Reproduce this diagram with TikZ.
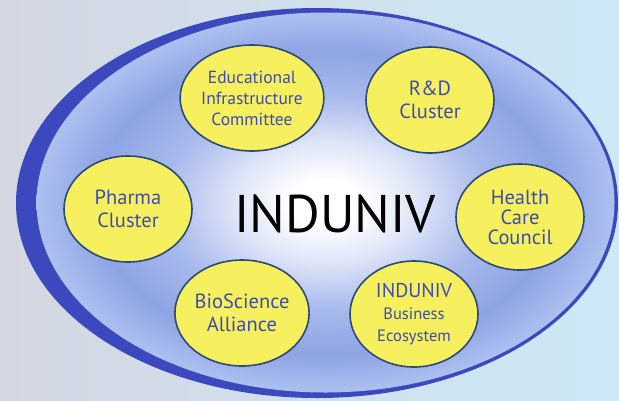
\documentclass[tikz,border=0pt]{standalone}
\usepackage{fontspec}
\setsansfont{PT Sans}
\usetikzlibrary{shapes.geometric}

\definecolor{ringblue}{RGB}{60,72,190}
\definecolor{rimblue}{RGB}{172,192,240}
\definecolor{midblue}{RGB}{142,164,228}
\definecolor{softblue}{RGB}{168,186,236}
\definecolor{paleblue}{RGB}{222,229,248}
\definecolor{clusteryellow}{RGB}{246,240,94}
\definecolor{clusteredge}{RGB}{44,74,115}
\definecolor{labelblue}{RGB}{60,76,180}
\definecolor{bgleft}{RGB}{211,215,225}
\definecolor{bgright}{RGB}{205,233,247}

\pgfdeclareradialshading{glow}{\pgfpoint{0bp}{0bp}}{color(0bp)=(white); color(3bp)=(white); color(8bp)=(paleblue); color(14bp)=(softblue); color(20bp)=(midblue); color(25bp)=(rimblue); color(50bp)=(rimblue)}

\begin{document}
\begin{tikzpicture}[x=1pt,y=-1pt,
    cluster/.style={ellipse, draw=clusteredge, line width=1.6pt, fill=clusteryellow,
      minimum width=128pt, minimum height=106pt, inner sep=0pt, align=center,
      text=labelblue, font=\sffamily\fontsize{20.5}{22.5}\selectfont}]
  \useasboundingbox (0,0) rectangle (619,400);
  \shade[left color=bgleft, right color=bgright] (0,0) rectangle (619,400);

  % outer ring and inner glow
  \fill[ringblue] (317,203) ellipse [x radius=301pt, y radius=195pt];
  \shade[shading=glow] (325.5,202.5) ellipse [x radius=289pt, y radius=190pt];

  \node[font=\sffamily\fontsize{53}{53}\selectfont] (induniv) at (335,214) {INDUNIV};

  % top row
  \node[cluster, font=\sffamily\fontsize{17.5}{21}\selectfont] (edu) at (252,98) {Educational\\Infrastructure\\Committee};
  \node[cluster] (rnd) at (430,100) {R\&D\\Cluster};
  % middle row
  \node[cluster] (pharma) at (128,209) {Pharma\\Cluster};
  \node[cluster, font=\sffamily\fontsize{20.5}{20}\selectfont] (health) at (520,217) {Health\\Care\\Council};
  % bottom row
  \node[cluster] (bio) at (242,313) {BioScience\\Alliance};
  \node[cluster, font=\sffamily\fontsize{16.5}{22}\selectfont] (business) at (414,314) {{\fontsize{20}{22}\selectfont INDUNIV}\\Business\\Ecosystem};
\end{tikzpicture}
\end{document}
